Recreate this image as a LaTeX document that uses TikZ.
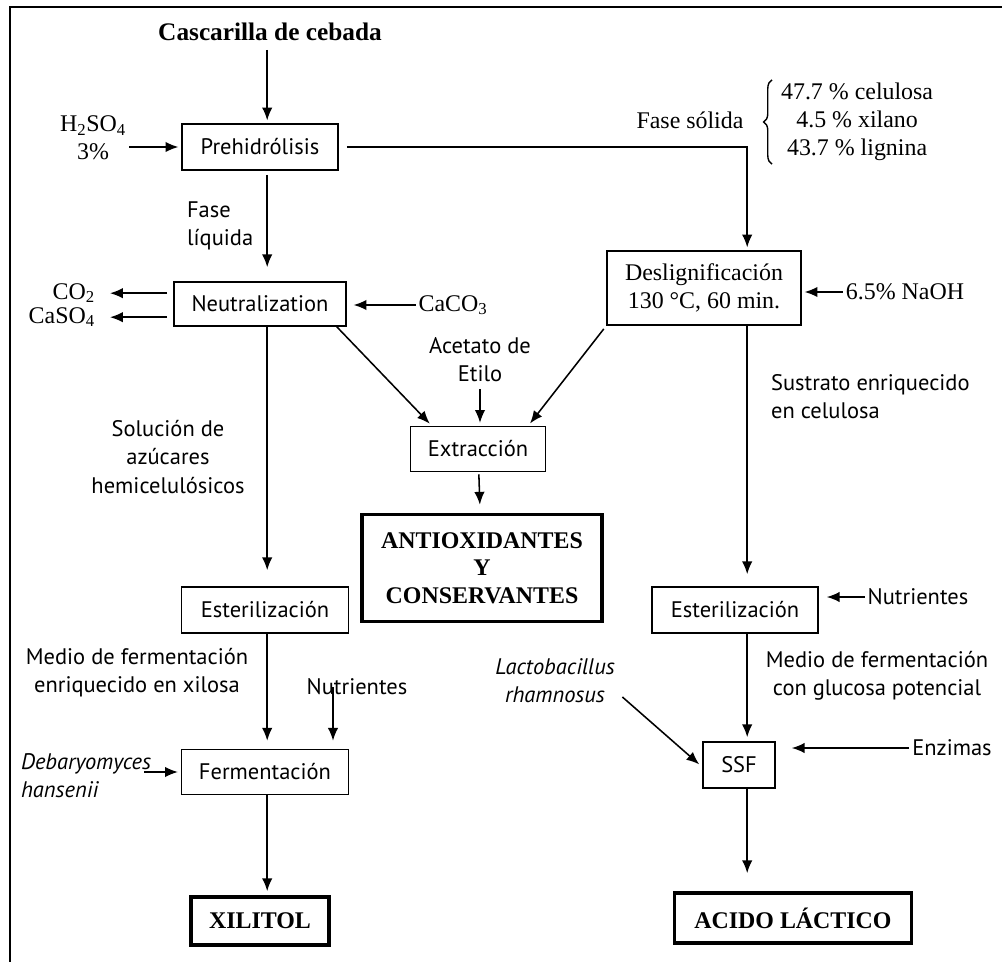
\documentclass[tikz,border=0pt]{standalone}
\usepackage{fontspec}
\setmainfont{Liberation Serif}
\newfontfamily\labfont{PT Sans}
\usetikzlibrary{arrows.meta,positioning,decorations.pathreplacing}

\begin{document}
\begin{tikzpicture}[
  box/.style={draw, line width=1.1pt, align=center, minimum height=1.15cm, font=\labfont\fontsize{16}{20}\selectfont},
  boxout/.style={draw, line width=2.6pt, align=center, font=\bfseries\fontsize{17}{19.5}\selectfont},
  lbl/.style={align=center, font=\labfont\fontsize{16}{20}\selectfont},
  chem/.style={align=center, font=\fontsize{17}{20}\selectfont},
  spc/.style={align=left, font=\labfont\itshape\fontsize{16}{20}\selectfont},
  edg/.style={-{Latex[length=3.2mm,width=2.6mm]}, line width=1.1pt, shorten >=2pt},
  every node/.style={inner sep=2pt}
]
\useasboundingbox (0,0) rectangle (25.05,-24.05);
% frame
\draw[line width=1.3pt] (25.05,-0.175) -- (0.25,-0.175) -- (0.25,-24.05);

\coordinate (LC) at (6.68,0);
\coordinate (RC) at (18.68,0);

\node[chem, font=\bfseries\fontsize{18}{20}\selectfont] (CAS) at (6.75,-0.8) {Cascarilla de cebada};
\node[box, minimum width=3.9cm] (PRE) at (6.5,-3.675) {Prehidrólisis};
\node[chem] (H2S) at (2.325,-3.45) {H\textsubscript{2}SO\textsubscript{4}\\3\%};
\node[chem] (FSO) at (17.25,-3.0) {Fase sólida};
\node[chem, anchor=west] (COM) at (19.45,-3.05) {47.7 \% celulosa\\4.5 \% xilano\\43.7 \% lignina};
\node[lbl, align=left, anchor=west] (FLI) at (4.6,-5.64) {Fase\\líquida};
\node[box, minimum width=4.3cm, minimum height=1.1cm] (NEU) at (6.5,-7.6) {Neutralization};
\node[chem, anchor=east] (CO2) at (2.45,-7.33) {CO\textsubscript{2}};
\node[chem, anchor=east] (CAS4) at (2.45,-7.93) {CaSO\textsubscript{4}};
\node[chem] (CAC) at (11.325,-7.625) {CaCO\textsubscript{3}};
\node[box, font=\fontsize{17}{20}\selectfont, minimum width=4.85cm, minimum height=1.85cm] (DES) at (17.6,-7.2) {Deslignificación\\130 °C, 60 min.};
\node[chem] (NAO) at (22.625,-7.3) {6.5\% NaOH};
\node[lbl] (ACE) at (12.0,-9.0) {Acetato de\\Etilo};
\node[lbl, align=left, anchor=west] (SUS) at (19.2,-9.925) {Sustrato enriquecido\\en celulosa};
\node[box, minimum width=3.375cm, minimum height=1.125cm] (EXT) at (11.95,-11.225) {Extracción};
\node[lbl] (SOL) at (4.2,-11.425) {Solución de\\azúcares\\hemicelulósicos};
\node[boxout, minimum width=6cm, minimum height=2.675cm] (ANT) at (12.05,-14.2) {ANTIOXIDANTES\\Y\\CONSERVANTES};
\node[box, minimum width=4.175cm] (EST1) at (6.625,-15.25) {Esterilización};
\node[box, minimum width=4.15cm] (EST2) at (18.375,-15.25) {Esterilización};
\node[lbl] (NUT2) at (22.95,-14.925) {Nutrientes};
\node[lbl] (MED1) at (3.425,-16.825) {Medio de fermentación\\enriquecido en xilosa};
\node[lbl] (NUT1) at (8.925,-17.175) {Nutrientes};
\node[spc, align=center] (LAC) at (13.875,-17.025) {Lactobacillus\\rhamnosus};
\node[lbl] (MED2) at (21.925,-16.9) {Medio de fermentación\\con glucosa potencial};
\node[box, minimum width=4.175cm, minimum height=1.125cm] (FER) at (6.625,-19.3) {Fermentación};
\node[spc, anchor=west] (DEB) at (0.45,-19.4) {Debaryomyces\\hansenii};
\node[box, minimum width=1.8cm] (SSF) at (18.475,-19.125) {SSF};
\node[lbl] (ENZ) at (23.8,-18.7) {Enzimas};
\node[boxout, minimum width=3.45cm, minimum height=1.2cm] (XIL) at (6.5,-23.025) {XILITOL};
\node[boxout, minimum width=5.925cm, minimum height=1.25cm] (ACI) at (19.825,-22.95) {ACIDO LÁCTICO};

\draw[decorate, decoration={brace, amplitude=6pt}, line width=1pt] ([xshift=-0.15cm]COM.south west) -- ([xshift=-0.15cm]COM.north west);

\draw[edg, shorten <=0.15cm] (CAS.south -| LC) -- (PRE.north -| LC);
\draw[edg] (H2S.east |- PRE.west) -- (PRE.west);
\draw[edg, shorten <=0.2cm] (PRE.east) -| (DES.north -| RC);
\draw[edg, shorten <=0.1cm, shorten >=0.35cm] (PRE.south -| LC) -- (NEU.north -| LC);
\draw[edg, shorten <=0.15cm, shorten >=0.3cm] (NEU.west |- CO2) -- (CO2.east);
\draw[edg, shorten <=0.15cm, shorten >=0.3cm] (NEU.west |- CAS4) -- (CAS4.east);
\draw[edg, shorten >=0.17cm] (CAC.west) -- (CAC.west -| NEU.east);
\draw[edg] (NAO.west) -- (NAO.west -| DES.east);
\draw[edg, shorten >=0.4cm] (NEU.south -| LC) -- (EST1.north -| LC);
\draw[edg] ([xshift=-0.25cm]NEU.south east) -- ([xshift=0.55cm]EXT.north west);
\draw[edg, shorten <=0.1cm] (DES.south west) -- ([xshift=-0.45cm]EXT.north east);
\draw[edg, shorten <=0.1cm] (ACE.south) -- (ACE.south |- EXT.north);
\draw[edg, shorten <=0.05cm, shorten >=0.2cm] (EXT) -- (ANT);
\draw[edg, shorten >=0.3cm] (DES.south -| RC) -- (EST2.north -| RC);
\draw[edg, shorten >=0.2cm] (NUT2.west) -- (NUT2.west -| EST2.east);
\draw[edg, shorten >=0.2cm] (EST1.south -| LC) -- (FER.north -| LC);
\draw[edg, shorten >=0.2cm] ([xshift=-0.6cm]NUT1.center) -- ([xshift=-0.6cm]NUT1.center |- FER.north);
\draw[edg] ([xshift=-0.25cm]DEB.east |- FER.west) -- (FER.west);
\draw[edg, shorten >=0.1cm] (FER.south -| LC) -- (XIL.north -| LC);
\draw[edg, shorten >=0.1cm] (EST2.south -| RC) -- (SSF.north -| RC);
\draw[edg, shorten <=0.15cm, shorten >=0.1cm] ([yshift=-0.3cm]LAC.east) -- ([yshift=-0.05cm]SSF.west);
\draw[edg, shorten >=0.4cm] (ENZ.west) -- (ENZ.west -| SSF.east);
\draw[edg, shorten >=0.45cm] (SSF.south -| RC) -- (ACI.north -| RC);
\end{tikzpicture}
\end{document}
